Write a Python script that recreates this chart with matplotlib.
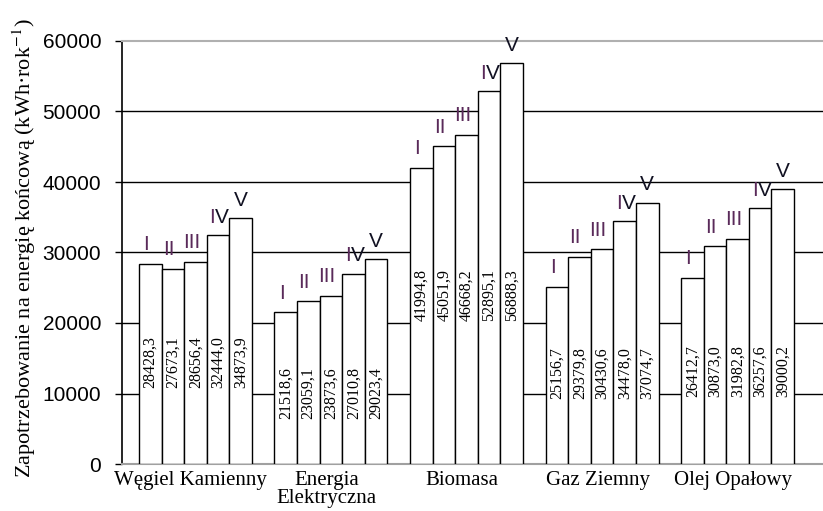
import numpy as np
import matplotlib
matplotlib.use("Agg")
import matplotlib.pyplot as plt

# dane z wykresu
categories = ["Węgiel Kamienny", "Energia\nElektryczna", "Biomasa", "Gaz Ziemny", "Olej Opałowy"]
variants = ["I", "II", "III", "IV", "V"]
wegiel = [28428.3, 27673.1, 28656.4, 32444.0, 34873.9]
energia = [21518.6, 23059.1, 23873.6, 27010.8, 29023.4]
biomasa = [41994.8, 45051.9, 46668.2, 52895.1, 56888.3]
gaz = [25156.7, 29379.8, 30430.6, 34478.0, 37074.7]
olej = [26412.7, 30873.0, 31982.8, 36257.6, 39000.2]
yticks = [0, 10000, 20000, 30000, 40000, 50000, 60000]

# polozenie srodka pionowych etykiet w kazdej grupie (uklad)
label_mid = [14400, 10080, 24000, 12850, 13130]

plt.rcParams['mathtext.fontset'] = 'stix'
serif = 'Liberation Serif'
sans = 'Liberation Sans'
purple = '#5a2a5a'

fig = plt.figure(figsize=(8.23, 5.11), dpi=100)
ax = fig.add_axes([122 / 823, 47 / 511, 701 / 823, 423 / 511])

groups = [wegiel, energia, biomasa, gaz, olej]
for g, vals in enumerate(groups):
    x = 6 * g + np.arange(len(vals)) + 0.5
    ax.bar(x, vals, width=1.0, color='white', edgecolor='black', linewidth=1.0, zorder=3)
    for xi, v, name in zip(x, vals, variants):
        # wartosci pionowo w slupkach
        ax.text(xi, label_mid[g], f"{v:.1f}".replace('.', ','), rotation=90,
                ha='center', va='center', family=serif, fontsize=11.5, zorder=4)
        # cyfry rzymskie nad slupkami
        if 'V' in name:
            pre = name.replace('V', '')
            if pre:
                ax.annotate(pre, (xi, v), xytext=(-2, 6), textcoords='offset points',
                            ha='right', va='bottom', family=sans, fontsize=15,
                            color=purple, zorder=4)
                ax.annotate('V', (xi, v), xytext=(-2, 6), textcoords='offset points',
                            ha='left', va='bottom', family=sans, fontsize=15,
                            color='#111122', zorder=4)
            else:
                ax.annotate('V', (xi, v), xytext=(0, 6), textcoords='offset points',
                            ha='center', va='bottom', family=sans, fontsize=15,
                            color='#111122', zorder=4)
        else:
            ax.annotate(name, (xi, v), xytext=(-3, 7), textcoords='offset points',
                        ha='center', va='bottom', family=sans, fontsize=15,
                        color=purple, zorder=4)

for t in yticks[1:-1]:
    ax.axhline(t, color='black', linewidth=1.0, zorder=1)

ax.set_xlim(-0.75, 30.28)
ax.set_ylim(0, 60000)
ax.set_yticks(yticks)
ax.set_yticklabels([str(t) for t in yticks], family=sans, fontsize=15)
ax.set_xticks([6 * g + 2.3 for g in range(len(categories))])
ax.set_xticklabels(categories, family=serif, fontsize=15, linespacing=0.9)
ax.tick_params(axis='x', length=0, pad=5)
ax.tick_params(axis='y', length=5, width=1.0, color='black', pad=10)

ax.spines['right'].set_visible(False)
ax.spines['top'].set_color('#b0b0b0')
ax.spines['top'].set_linewidth(1.5)
ax.spines['bottom'].set_color('#a0a0a0')
ax.spines['bottom'].set_linewidth(1.5)
ax.spines['left'].set_color('black')
ax.spines['left'].set_linewidth(1.2)

ax.set_ylabel("Zapotrzebowanie na energię końcową (kWh·rok$^{-1}$)",
              family=serif, fontsize=16)
ax.yaxis.set_label_coords(-0.12, 0.51)

fig.savefig("out.png", dpi=100)
